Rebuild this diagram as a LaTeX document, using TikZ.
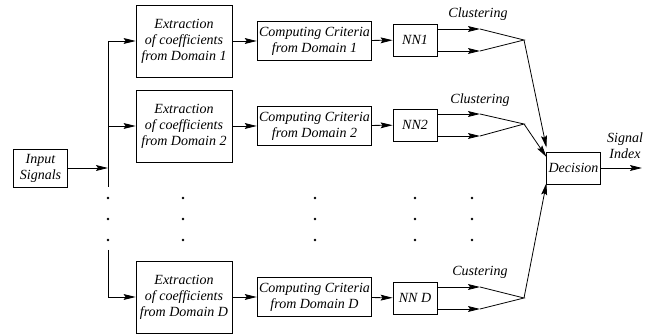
\documentclass[tikz,border=0pt]{standalone}
\usepackage{fontspec}
\setmainfont{Liberation Serif}
\usetikzlibrary{arrows.meta}
\begin{document}
\begin{tikzpicture}[x=0.75pt,y=-0.75pt]
\fontsize{10.5}{12}\selectfont\itshape
\useasboundingbox (0,0) rectangle (652,334);
\begin{scope}[line width=0.6pt,
              arr/.style={-{Stealth[length=9pt,width=4.4pt,inset=1.5pt]}},
              block1/.style={rectangle,draw,align=center,inner sep=1pt},
              ext/.style={block1,minimum width=72pt,minimum height=54pt},
              crit/.style={block1,minimum width=86pt,minimum height=29pt},
              nn/.style={block1,minimum width=33pt,minimum height=24pt},
              block2/.style={rectangle,align=center,inner sep=0pt}]
    % boxes
    \node [block1,minimum width=41pt,minimum height=28.5pt] (in) at (40.5,168) {Input \\ Signals};
    \node [ext] (e1) at (184,41) {Extraction \\ of coefficients \\ from Domain 1};
    \node [ext] (e2) at (184,126) {Extraction \\ of coefficients \\ from Domain 2};
    \node [ext] (eD) at (184,297) {Extraction \\ of coefficients \\ from Domain D};
    \node [crit] (c1) at (314.5,41) {Computing Criteria \\ from Domain 1};
    \node [crit] (c2) at (314.5,126) {Computing Criteria \\ from Domain 2};
    \node [crit] (cD) at (314.5,297) {Computing Criteria \\ from Domain D};
    \node [nn] (n1) at (415,40) {NN1};
    \node [nn] (n2) at (415,125) {NN2};
    \node [nn] (nD) at (415,298) {NN D};
    \node [block1,minimum width=40pt,minimum height=24pt] (dec) at (573.5,168) {Decision};
    % labels
    \node [block2] (l1) at (478,14) {Clustering};
    \node [block2] (l2) at (480,100) {Clustering};
    \node [block2] (lD) at (480,272) {Custering};
    \node [block2] (out) at (625,146) {Signal \\ Index};
    % branch points
    \coordinate (j1) at (108,41);
    \coordinate (j2) at (108,126);
    \coordinate (jm) at (108,168);
    \coordinate (ja) at (108,187);
    \coordinate (jb) at (108,250);
    \coordinate (jD) at (108,297);
    \coordinate (k1) at (524,40);
    \coordinate (k2) at (524,124);
    \coordinate (kD) at (524,298);
    \coordinate (a1) at (480,29);
    \coordinate (b1) at (480,51);
    \coordinate (a2) at (480,114);
    \coordinate (b2) at (480,136);
    \coordinate (aD) at (480,287);
    \coordinate (bD) at (480,309);
    \coordinate (o) at (642,168);
    % connectors
    \draw [arr] (in) -- (jm);
    \draw (j1) -- (ja);
    \draw (jb) -- (jD);
    \draw [arr] (j1) -- (e1);
    \draw [arr] (j2) -- (e2);
    \draw [arr] (jD) -- (eD);
    \draw [arr] (e1) -- (c1);
    \draw [arr] (e2) -- (c2);
    \draw [arr] (eD) -- (cD);
    \draw [arr] (c1) -- (n1);
    \draw [arr] (c2) -- (n2);
    \draw [arr] (cD) -- (nD);
    \draw [arr] (n1.east |- a1) -- (a1);
    \draw [arr] (n1.east |- b1) -- (b1);
    \draw [arr] (n2.east |- a2) -- (a2);
    \draw [arr] (n2.east |- b2) -- (b2);
    \draw [arr] (nD.east |- aD) -- (aD);
    \draw [arr] (nD.east |- bD) -- (bD);
    \draw (a1) -- (k1) -- (b1);
    \draw (a2) -- (k2) -- (b2);
    \draw (aD) -- (kD) -- (bD);
    \draw [arr] (k1) -- ([yshift=3pt]dec.north west);
    \draw [arr] (k2) -- ([yshift=-4pt]dec.north west);
    \draw [arr] (kD) -- ([yshift=1pt]dec.south west);
    \draw [arr] (dec) -- (o);
    % dots
    \foreach \x in {108,183,315,415,472}
      \foreach \y in {198,219,240}
        \fill (\x,\y) circle (1.4);
\end{scope}
\end{tikzpicture}
\end{document}
